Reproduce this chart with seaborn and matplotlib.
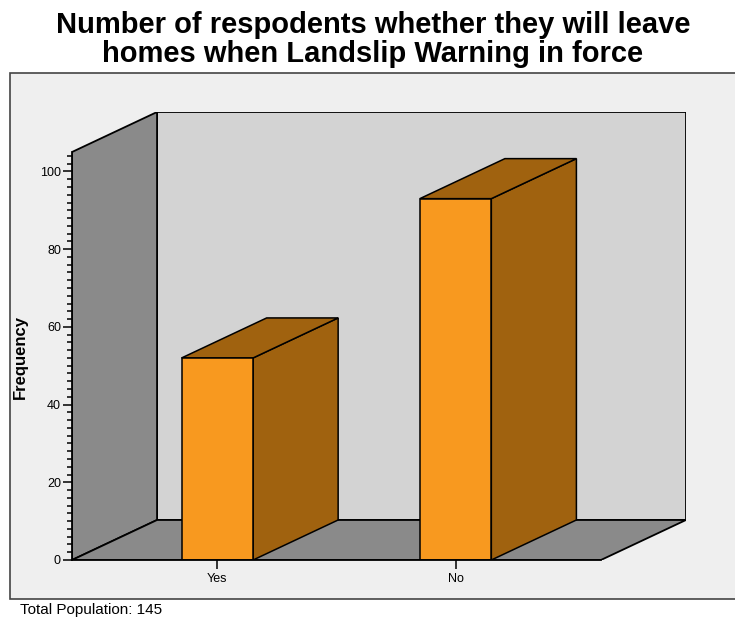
import matplotlib
matplotlib.use("Agg")
import matplotlib.pyplot as plt
import seaborn as sns
import pandas as pd
from matplotlib.patches import Polygon, Rectangle
from matplotlib.ticker import FixedLocator

# Survey answers and respondent counts
answers = ["Yes", "No"]
frequency = [52, 93]
total_population = 145
y_major_ticks = [0, 20, 40, 60, 80, 100]

title_lines = ["Number of respodents whether they will leave",
               "homes when Landslip Warning in force"]

# Colours
PANEL = "#efefef"
BACK_WALL = "#d3d3d3"
SIDE_WALL = "#8a8a8a"
BAR_FRONT = "#f8991f"
BAR_SHADE = "#a0620f"

sns.set_theme(style="white")
plt.rcParams["font.family"] = ["Liberation Sans", "DejaVu Sans"]
plt.rcParams["text.color"] = "black"
plt.rcParams["xtick.color"] = "black"
plt.rcParams["ytick.color"] = "black"

W, H = 735, 618
fig = plt.figure(figsize=(W / 100, H / 100), dpi=100)
fig.patch.set_facecolor("white")

# light grey chart panel with a thin frame
fig.patches.append(Rectangle((10 / W, 1 - 599 / H), 1.2, (599 - 73) / H,
                             transform=fig.transFigure, facecolor=PANEL,
                             edgecolor="#444444", lw=1.2, zorder=-10))

ax = fig.add_axes([72 / W, 1 - 560 / H, (686 - 72) / W, (560 - 112) / H])
ax.set_facecolor("none")
ax.set_zorder(1)

# pseudo-3D box geometry (data units)
x_lo, x_hi = -0.61, 1.61
y_top = 105
dx, dy = 0.357, 10.3

df = pd.DataFrame({"answer": answers, "count": frequency})
sns.barplot(data=df, x="answer", y="count", ax=ax, width=0.3,
            color=BAR_FRONT, saturation=1, edgecolor="black",
            linewidth=1.1, zorder=5)

# walls and floor
ax.add_patch(Rectangle((x_lo + dx, dy), x_hi - x_lo, y_top, facecolor=BACK_WALL,
                       edgecolor="black", lw=1.3, zorder=1))
ax.add_patch(Polygon([(x_lo, 0), (x_lo, y_top), (x_lo + dx, y_top + dy),
                      (x_lo + dx, dy)], closed=True, facecolor=SIDE_WALL,
                     edgecolor="black", lw=1.3, zorder=2))
ax.add_patch(Polygon([(x_lo, 0), (x_hi, 0), (x_hi + dx, dy), (x_lo + dx, dy)],
                     closed=True, facecolor=SIDE_WALL, edgecolor="black",
                     lw=1.3, zorder=2))

# depth faces of each bar
for bar in list(ax.patches):
    if bar.get_zorder() != 5:
        continue
    x0 = bar.get_x()
    w = bar.get_width()
    h = bar.get_height()
    side = [(x0 + w, 0), (x0 + w + dx, dy), (x0 + w + dx, h + dy), (x0 + w, h)]
    top = [(x0, h), (x0 + dx, h + dy), (x0 + w + dx, h + dy), (x0 + w, h)]
    ax.add_patch(Polygon(side, closed=True, facecolor=BAR_SHADE,
                         edgecolor="black", lw=1.1, zorder=4))
    ax.add_patch(Polygon(top, closed=True, facecolor=BAR_SHADE,
                         edgecolor="black", lw=1.1, zorder=4))

ax.set_xlim(x_lo, x_hi + dx)
ax.set_ylim(0, y_top + dy)

for s in ["top", "right"]:
    ax.spines[s].set_visible(False)
ax.spines["left"].set_bounds(0, y_top)
ax.spines["bottom"].set_bounds(x_lo, x_hi)
for s in ["left", "bottom"]:
    ax.spines[s].set_color("black")
    ax.spines[s].set_linewidth(1.3)
    ax.spines[s].set_zorder(6)

ax.set_yticks(y_major_ticks)
ax.yaxis.set_minor_locator(FixedLocator(list(range(0, y_top, 2))))
ax.tick_params(axis="y", which="major", direction="out", length=6.5, width=1.1,
               labelsize=9, pad=1.5, colors="black", left=True)
ax.tick_params(axis="y", which="minor", direction="out", length=3.6, width=1.1,
               colors="black", left=True)
ax.tick_params(axis="x", which="major", direction="out", length=6.5, width=1.1,
               labelsize=9, pad=2.5, colors="black", bottom=True)
ax.set_xlabel("")
ax.set_ylabel("")

fig.text(20 / W, 1 - 357 / H, "Frequency", rotation=90, ha="center",
         va="center", fontsize=12, fontweight="bold")

fig.text(373 / W, 1 - 33 / H, title_lines[0], ha="center", va="baseline",
         fontsize=21, fontweight="bold")
fig.text(373 / W, 1 - 62 / H, title_lines[1], ha="center", va="baseline",
         fontsize=21, fontweight="bold")

fig.text(20 / W, 1 - 614 / H, f"Total Population: {total_population}",
         ha="left", va="baseline", fontsize=11)

fig.savefig("out.png", dpi=100)
